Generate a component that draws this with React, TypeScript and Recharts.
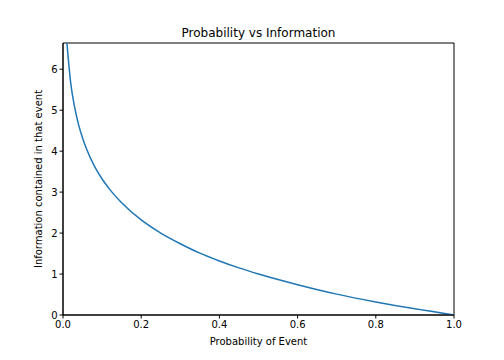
import { Label, Line, LineChart, ReferenceArea, XAxis, YAxis } from 'recharts'

// probability of event vs information (bits)
const probs = [0.01, 0.02, 0.03, 0.04, 0.05, 0.06, 0.08, 0.1, 0.12, 0.15, 0.2, 0.25, 0.3, 0.35, 0.4, 0.45, 0.5, 0.6, 0.7, 0.8, 0.9, 1.0]
const info = [6.64, 5.64, 5.06, 4.64, 4.32, 4.06, 3.64, 3.32, 3.06, 2.74, 2.32, 2.0, 1.74, 1.51, 1.32, 1.15, 1.0, 0.74, 0.51, 0.32, 0.15, 0]
const xTicks = [0, 0.2, 0.4, 0.6, 0.8, 1.0]
const yTicks = [0, 1, 2, 3, 4, 5, 6]

const data = probs.map((p, i) => ({ p, info: info[i] }))

const font = 'DejaVu Sans, sans-serif'
const tick = { fill: '#000', fontSize: 10, fontFamily: font }

export default function App() {
  return (
    <div style={{ position: 'absolute', left: 0, top: 0, width: 504, height: 360, background: '#fff' }}>
      <LineChart width={504} height={360} data={data} margin={{ top: 43, right: 50, bottom: 15, left: 33 }}>
        <text x={258.5} y={37} textAnchor="middle" fontSize={12} fontFamily={font} fill="#000">
          Probability vs Information
        </text>
        <XAxis
          dataKey="p"
          type="number"
          domain={[0, 1]}
          ticks={xTicks}
          tickFormatter={(v: number) => v.toFixed(1)}
          tick={tick}
          tickSize={3.5}
          stroke="#000"
          height={30}
          allowDataOverflow
        >
          <Label value="Probability of Event" position="insideBottom" offset={0} style={{ fontSize: 10, fontFamily: font, fill: '#000' }} />
        </XAxis>
        <YAxis
          type="number"
          domain={[0, 6.64]}
          ticks={yTicks}
          tick={tick}
          tickSize={3.5}
          stroke="#000"
          width={30}
          allowDataOverflow
        >
          <Label value="Information contained in that event" angle={-90} position="insideLeft" offset={5} style={{ fontSize: 10, fontFamily: font, fill: '#000', textAnchor: 'middle' }} />
        </YAxis>
        <ReferenceArea x1={0} x2={1} y1={0} y2={6.64} fill="none" stroke="#000" strokeWidth={1} />
        <Line type="monotone" dataKey="info" stroke="#1f77b4" strokeWidth={1.5} dot={false} isAnimationActive={false} />
      </LineChart>
    </div>
  )
}
